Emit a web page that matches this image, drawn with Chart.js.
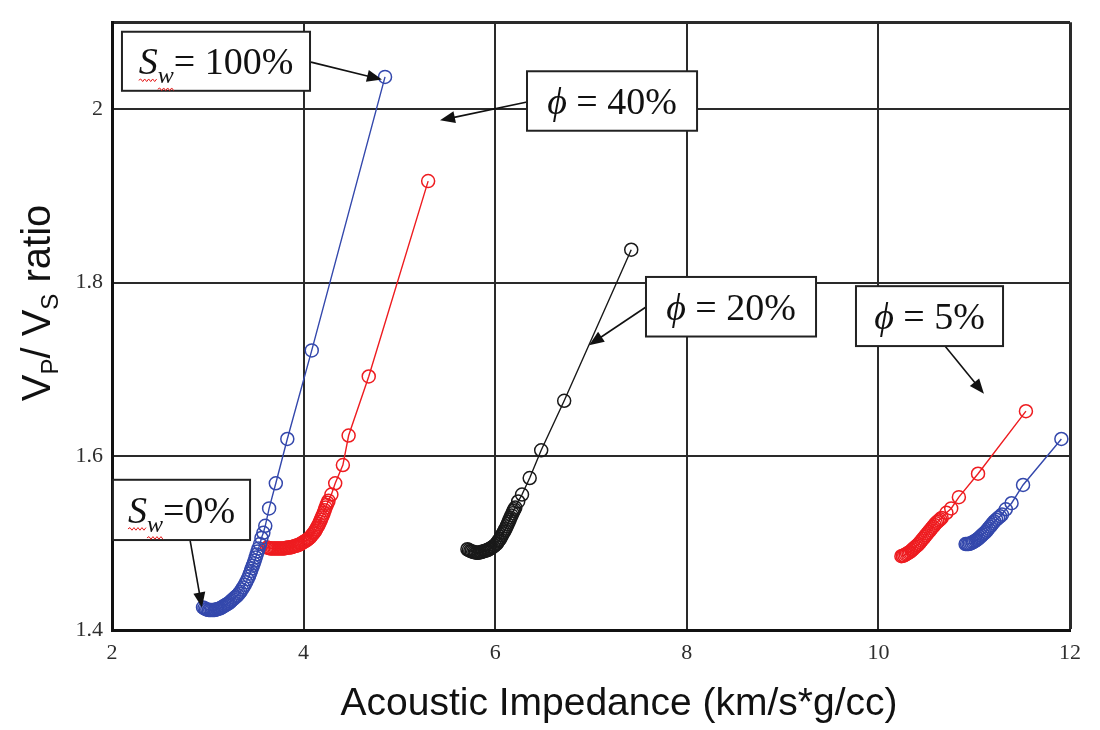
<!DOCTYPE html>
<html>
<head>
<meta charset="utf-8">
<title>Vp/Vs ratio vs Acoustic Impedance</title>
<script src="https://cdn.jsdelivr.net/npm/chart.js@4.4.1/dist/chart.umd.min.js"></script>
<style>
body { margin: 0; background: #fff; }
#wrap { width: 1100px; height: 730px; position: relative; }
</style>
</head>
<body>
<div id="wrap"><canvas id="chart"></canvas></div>
<script>
// tick labels
const xTicks = [2, 4, 6, 8, 10, 12];
const yTicks = [1.4, 1.6, 1.8, 2.0, 2.1];

// phi = 40%, blue and red fluid paths (Sw 0 -> 100%)
const blue40X = [2.95, 2.965, 2.98, 2.995, 3.01, 3.025, 3.04, 3.055, 3.07, 3.085, 3.10, 3.115, 3.13, 3.145, 3.16, 3.175, 3.19, 3.205, 3.22, 3.235, 3.25, 3.265, 3.28, 3.295, 3.31, 3.325, 3.34, 3.355, 3.37, 3.385, 3.40, 3.415, 3.43, 3.44, 3.45, 3.46, 3.47, 3.48, 3.49, 3.50, 3.51, 3.52, 3.53, 3.545, 3.56, 3.58, 3.60, 3.64, 3.71, 3.83, 4.085, 4.85];
const blue40Y = [1.426, 1.425, 1.424, 1.4235, 1.423, 1.423, 1.423, 1.423, 1.423, 1.4235, 1.424, 1.4245, 1.425, 1.426, 1.427, 1.428, 1.429, 1.430, 1.431, 1.4325, 1.434, 1.4355, 1.437, 1.4385, 1.440, 1.442, 1.444, 1.4465, 1.449, 1.452, 1.455, 1.4585, 1.462, 1.465, 1.468, 1.471, 1.474, 1.477, 1.480, 1.4835, 1.487, 1.4905, 1.494, 1.499, 1.506, 1.512, 1.520, 1.540, 1.569, 1.620, 1.722, 2.037];
const red40X = [3.62, 3.635, 3.65, 3.665, 3.68, 3.695, 3.71, 3.725, 3.74, 3.755, 3.77, 3.785, 3.80, 3.815, 3.83, 3.845, 3.86, 3.875, 3.89, 3.905, 3.92, 3.935, 3.95, 3.965, 3.98, 3.995, 4.01, 4.025, 4.04, 4.055, 4.07, 4.085, 4.10, 4.11, 4.12, 4.13, 4.14, 4.15, 4.16, 4.17, 4.18, 4.19, 4.20, 4.21, 4.22, 4.23, 4.24, 4.25, 4.26, 4.29, 4.33, 4.41, 4.47, 4.68, 5.30];
const red40Y = [1.495, 1.4945, 1.494, 1.494, 1.494, 1.494, 1.494, 1.494, 1.494, 1.494, 1.494, 1.494, 1.494, 1.4945, 1.495, 1.495, 1.495, 1.4955, 1.496, 1.4965, 1.497, 1.4975, 1.498, 1.499, 1.500, 1.501, 1.502, 1.503, 1.504, 1.5055, 1.507, 1.509, 1.511, 1.5125, 1.514, 1.516, 1.518, 1.520, 1.522, 1.5245, 1.527, 1.5295, 1.532, 1.535, 1.538, 1.541, 1.544, 1.5465, 1.549, 1.556, 1.569, 1.590, 1.624, 1.692, 1.917];

// phi = 20%
const black20X = [5.71, 5.725, 5.74, 5.755, 5.77, 5.785, 5.80, 5.815, 5.83, 5.845, 5.86, 5.875, 5.89, 5.905, 5.92, 5.935, 5.95, 5.965, 5.98, 5.995, 6.01, 6.02, 6.03, 6.04, 6.05, 6.06, 6.07, 6.08, 6.09, 6.10, 6.11, 6.12, 6.13, 6.14, 6.15, 6.16, 6.17, 6.18, 6.19, 6.20, 6.21, 6.24, 6.28, 6.36, 6.48, 6.72, 7.42];
const black20Y = [1.493, 1.492, 1.491, 1.4905, 1.490, 1.4895, 1.489, 1.489, 1.489, 1.4895, 1.490, 1.4905, 1.491, 1.4915, 1.492, 1.493, 1.494, 1.495, 1.496, 1.4975, 1.499, 1.500, 1.502, 1.5035, 1.505, 1.507, 1.509, 1.511, 1.513, 1.515, 1.517, 1.5195, 1.522, 1.5245, 1.527, 1.5295, 1.532, 1.5345, 1.537, 1.539, 1.541, 1.548, 1.556, 1.575, 1.607, 1.664, 1.838];

// phi = 5%
const red5X = [10.24, 10.255, 10.27, 10.285, 10.30, 10.315, 10.33, 10.345, 10.36, 10.375, 10.39, 10.405, 10.42, 10.435, 10.45, 10.465, 10.48, 10.495, 10.51, 10.525, 10.54, 10.555, 10.57, 10.585, 10.60, 10.615, 10.63, 10.645, 10.66, 10.71, 10.76, 10.84, 11.04, 11.54];
const red5Y = [1.485, 1.4855, 1.486, 1.487, 1.488, 1.489, 1.490, 1.4915, 1.493, 1.4945, 1.496, 1.4975, 1.499, 1.501, 1.503, 1.505, 1.507, 1.509, 1.511, 1.513, 1.515, 1.517, 1.519, 1.521, 1.523, 1.5245, 1.526, 1.5275, 1.529, 1.535, 1.540, 1.553, 1.580, 1.652];
const blue5X = [10.91, 10.925, 10.94, 10.955, 10.97, 10.985, 11.00, 11.015, 11.03, 11.045, 11.06, 11.075, 11.09, 11.105, 11.12, 11.135, 11.15, 11.165, 11.18, 11.195, 11.21, 11.23, 11.25, 11.27, 11.29, 11.33, 11.39, 11.51, 11.91];
const blue5Y = [1.499, 1.499, 1.499, 1.4995, 1.500, 1.501, 1.502, 1.503, 1.504, 1.5055, 1.507, 1.5085, 1.510, 1.5115, 1.513, 1.515, 1.517, 1.519, 1.521, 1.523, 1.525, 1.527, 1.529, 1.531, 1.533, 1.539, 1.546, 1.567, 1.620];

const BLUE = 'rgb(52,72,172)';
const RED = 'rgb(238,28,32)';
const BLACK = 'rgb(25,25,25)';
const SERIF = "'Liberation Serif', 'DejaVu Serif', serif";
const SANS = "'Liberation Sans', Arial, sans-serif";

function pts(xs, ys)
{
	return xs.map((x, i) => ({ x: x, y: ys[i] }));
}

function series(xs, ys, color)
{
	return {
		data: pts(xs, ys),
		showLine: true,
		borderColor: color,
		borderWidth: 1.4,
		pointRadius: 6.5,
		pointBorderWidth: 1.5,
		pointBorderColor: color,
		pointBackgroundColor: 'rgba(0,0,0,0)',
		pointStyle: 'circle'
	};
}

// callout boxes and arrows, in data units (left, top, right, bottom)
const swText = (rest) => [
	{ t: 'S', font: 'italic 38px ' + SERIF, sq: true },
	{ t: 'w', font: 'italic 24px ' + SERIF, dy: 9, sq: true },
	{ t: rest, font: '38px ' + SERIF }
];
const phiText = (rest) => [
	{ t: '\u03D5', font: 'italic 38px ' + SERIF },
	{ t: rest, font: '38px ' + SERIF }
];
const notes = [
	{ box: [2.104, 2.089, 4.067, 2.021], parts: swText('= 100%'), from: [4.077, 2.054], to: [4.818, 2.034] },
	{ box: [6.332, 2.0435, 8.107, 1.975], parts: phiText(' = 40%'), from: [6.332, 2.008], to: [5.424, 1.987] },
	{ box: [7.574, 1.8066, 9.349, 1.738], parts: phiText(' = 20%'), from: [7.574, 1.772], to: [6.979, 1.728] },
	{ box: [9.766, 1.796, 11.301, 1.727], parts: phiText(' = 5%'), from: [10.695, 1.727], to: [11.102, 1.672] },
	{ box: [2.010, 1.573, 3.441, 1.5036], parts: swText('=0%'), from: [2.814, 1.504], to: [2.939, 1.426] }
];

function drawRich(ctx, parts, cx, baseY)
{
	let total = 0;
	parts.forEach(p => {
		ctx.font = p.font;
		p.w = ctx.measureText(p.t).width;
		total += p.w;
	});
	let x = cx - total / 2;
	ctx.textAlign = 'left';
	ctx.textBaseline = 'alphabetic';
	parts.forEach(p => {
		ctx.font = p.font;
		ctx.fillStyle = '#111';
		ctx.fillText(p.t, x, baseY + (p.dy || 0));
		p.x = x;
		x += p.w;
	});
	return parts;
}

function squiggle(ctx, x0, x1, y)
{
	ctx.save();
	ctx.strokeStyle = 'rgb(230,30,30)';
	ctx.lineWidth = 1;
	ctx.beginPath();
	ctx.moveTo(x0, y);
	let up = true;
	for (let x = x0 + 2; x <= x1; x += 2)
	{
		ctx.lineTo(x, y + (up ? -1.3 : 1.3));
		up = !up;
	}
	ctx.stroke();
	ctx.restore();
}

function arrow(ctx, x0, y0, x1, y1)
{
	const a = Math.atan2(y1 - y0, x1 - x0);
	const len = 15, half = 6;
	ctx.save();
	ctx.strokeStyle = '#111';
	ctx.fillStyle = '#111';
	ctx.lineWidth = 1.6;
	ctx.beginPath();
	ctx.moveTo(x0, y0);
	ctx.lineTo(x1 - Math.cos(a) * len * 0.8, y1 - Math.sin(a) * len * 0.8);
	ctx.stroke();
	ctx.beginPath();
	ctx.moveTo(x1, y1);
	ctx.lineTo(x1 - Math.cos(a) * len - Math.sin(a) * half, y1 - Math.sin(a) * len + Math.cos(a) * half);
	ctx.lineTo(x1 - Math.cos(a) * len + Math.sin(a) * half, y1 - Math.sin(a) * len - Math.cos(a) * half);
	ctx.closePath();
	ctx.fill();
	ctx.restore();
}

const decorations = {
	id: 'decorations',
	afterDraw(chart) {
		const ctx = chart.ctx;
		const xs = chart.scales.x, ys = chart.scales.y;

		notes.forEach(n => {
			const l = xs.getPixelForValue(n.box[0]);
			const t = ys.getPixelForValue(n.box[1]);
			const r = xs.getPixelForValue(n.box[2]);
			const b = ys.getPixelForValue(n.box[3]);
			arrow(ctx, xs.getPixelForValue(n.from[0]), ys.getPixelForValue(n.from[1]),
				xs.getPixelForValue(n.to[0]), ys.getPixelForValue(n.to[1]));
			ctx.save();
			ctx.fillStyle = '#fff';
			ctx.fillRect(l, t, r - l, b - t);
			ctx.strokeStyle = '#222';
			ctx.lineWidth = 2;
			ctx.strokeRect(l, t, r - l, b - t);
			const base = (t + b) / 2 + 13;
			const parts = drawRich(ctx, n.parts, (l + r) / 2, base);
			parts.forEach(p => {
				if (p.sq)
					squiggle(ctx, p.x, p.x + p.w, base + (p.dy || 0) + 6);
			});
			ctx.restore();
		});

		// axis titles
		ctx.save();
		ctx.fillStyle = '#111';
		ctx.font = '39px ' + SANS;
		ctx.textAlign = 'center';
		ctx.textBaseline = 'alphabetic';
		ctx.fillText('Acoustic Impedance (km/s*g/cc)', 619, 715);
		ctx.restore();

		ctx.save();
		ctx.translate(50, 303);
		ctx.rotate(-Math.PI / 2);
		drawRich(ctx, [
			{ t: 'V', font: '40px ' + SANS },
			{ t: 'P', font: '24px ' + SANS, dy: 8 },
			{ t: '/ ', font: '40px ' + SANS },
			{ t: 'V', font: '40px ' + SANS },
			{ t: 'S', font: '24px ' + SANS, dy: 8 },
			{ t: ' ratio', font: '40px ' + SANS }
		], 0, 0);
		ctx.restore();
	}
};

const edgeWidth = (edge) => (c) => (Math.abs(c.tick.value - edge) < 1e-6 ? 3 : 2);

new Chart(document.getElementById('chart').getContext('2d'), {
	type: 'scatter',
	data: {
		datasets: [
			series(blue40X, blue40Y, BLUE),
			series(red40X, red40Y, RED),
			series(black20X, black20Y, BLACK),
			series(red5X, red5Y, RED),
			series(blue5X, blue5Y, BLUE)
		]
	},
	options: {
		responsive: true,
		maintainAspectRatio: false,
		animation: false,
		layout: { padding: { left: 0, right: 30, top: 15, bottom: 0 } },
		plugins: {
			legend: { display: false },
			tooltip: { enabled: false }
		},
		scales: {
			x: {
				type: 'linear',
				min: 2,
				max: 12,
				afterBuildTicks: (s) => { s.ticks = xTicks.map(v => ({ value: v })); },
				afterFit: (s) => { s.height = 100; },
				ticks: {
					padding: 10,
					color: '#2e2e2e',
					font: { family: SERIF, size: 22 },
					maxRotation: 0,
					callback: (v) => String(v)
				},
				grid: { color: '#2a2a2a', lineWidth: edgeWidth(12), drawTicks: false },
				border: { color: '#111', width: 3 }
			},
			y: {
				min: 1.4,
				max: 2.1,
				afterBuildTicks: (s) => { s.ticks = yTicks.map(v => ({ value: v })); },
				afterFit: (s) => { s.width = 112; },
				ticks: {
					padding: 9,
					color: '#2e2e2e',
					font: { family: SERIF, size: 22 },
					callback: (v) => {
						if (Math.abs(v - 2.1) < 1e-6) return '';
						if (Math.abs(v - 2) < 1e-6) return '2';
						return v.toFixed(1);
					}
				},
				grid: { color: '#2a2a2a', lineWidth: edgeWidth(2.1), drawTicks: false },
				border: { color: '#111', width: 3 }
			}
		}
	},
	plugins: [decorations]
});
</script>
</body>
</html>
